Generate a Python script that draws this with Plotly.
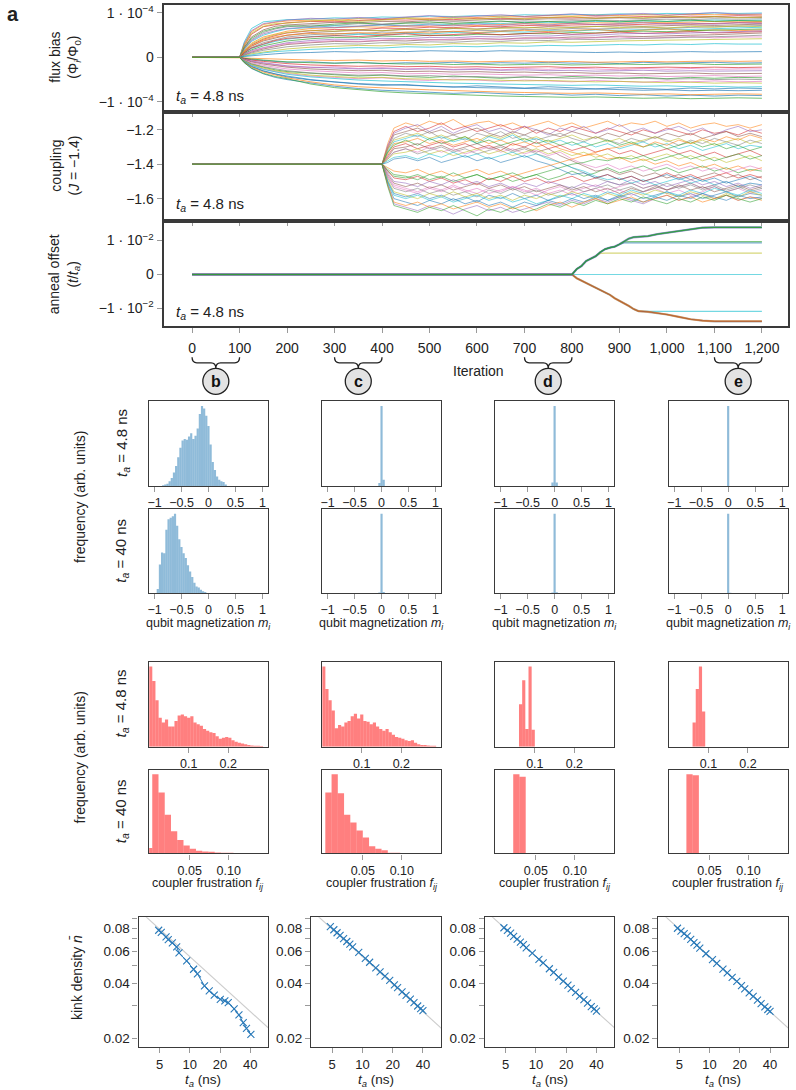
import plotly.graph_objects as go

W, H = 796, 1090
def fx(px): return px / W
def fy(py): return 1 - py / H

TAB10 = ['31,119,180', '255,127,14', '44,160,44', '214,39,40', '148,103,189',
         '140,86,75', '227,119,194', '127,127,127', '188,189,34', '23,190,207']

# ---------------- top panels data ----------------
iter_ticks = [0, 100, 200, 300, 400, 500, 600, 700, 800, 900, 1000, 1100, 1200]
iter_ticktext = ['0', '100', '200', '300', '400', '500', '600', '700', '800', '900', '1,000', '1,100', '1,200']

# flux bias, units of 1e-5 Phi_0
flux_iter = [0, 100, 110, 125, 150, 175, 200, 250, 300, 350, 400, 450, 500, 550, 600, 650, 700, 750, 800, 850, 900, 950, 1000, 1050, 1100, 1150, 1200]
flux_traces = [
    [0,0,3.5,6.5,8.0,8.3,8.5,8.6,8.9,8.8,9.1,9.0,9.3,9.2,9.4,9.3,9.6,9.5,9.7,9.6,9.8,9.7,9.9,9.8,10.0,9.9,10.0],
    [0,0,-0.2,-0.5,-0.7,-0.9,-1.1,-1.0,-1.3,-1.1,-1.4,-1.2,-1.3,-1.1,-1.4,-1.2,-1.3,-1.1,-1.3,-1.2,-1.4,-1.1,-1.3,-1.2,-1.1,-1.3,-1.2],
    [0,0,3.0,5.8,7.4,7.9,8.2,8.4,8.3,8.7,8.6,8.9,8.8,9.1,9.0,9.3,9.2,9.4,9.3,9.5,9.4,9.6,9.5,9.7,9.6,9.7,9.6],
    [0,0,-0.7,-1.5,-2.2,-2.8,-3.2,-3.6,-3.9,-4.2,-4.0,-4.3,-4.5,-4.2,-4.4,-4.7,-4.4,-4.6,-4.3,-4.5,-4.7,-4.5,-4.8,-4.5,-4.7,-4.5,-4.6],
    [0,0,2.6,5.2,6.9,7.4,7.8,8.1,8.0,8.3,8.5,8.4,8.6,8.5,8.8,8.7,8.9,9.0,8.9,9.1,9.0,9.2,9.1,9.3,9.2,9.4,9.3],
    [0,0,3.2,6.0,7.6,8.0,8.4,8.8,8.6,9.0,8.7,9.1,9.4,9.0,9.3,9.6,9.2,9.5,9.8,9.4,9.7,9.9,9.5,9.8,10.1,9.7,9.8],
    [0,0,2.3,4.6,6.2,7.0,7.3,7.6,7.9,7.8,8.1,8.0,8.3,8.2,8.4,8.6,8.5,8.7,8.6,8.8,8.9,8.8,9.0,8.9,9.1,9.0,9.0],
    [0,0,-0.4,-0.9,-1.3,-1.7,-2.0,-2.3,-2.1,-2.5,-2.3,-2.6,-2.4,-2.7,-2.5,-2.8,-2.5,-2.7,-2.4,-2.6,-2.8,-2.5,-2.7,-2.5,-2.7,-2.6,-2.6],
    [0,0,2.0,4.0,5.6,6.4,6.9,7.3,7.2,7.6,7.5,7.8,7.7,8.0,7.9,8.1,8.2,8.1,8.3,8.4,8.3,8.5,8.6,8.5,8.7,8.6,8.7],
    [0,0,2.8,5.5,7.0,7.6,7.7,8.2,8.5,8.1,8.4,8.8,8.5,8.8,8.6,9.0,8.7,8.9,9.2,8.8,9.1,8.9,9.3,9.0,9.2,8.9,9.1],
    [0,0,1.8,3.6,5.0,5.8,6.4,6.8,7.1,7.0,7.3,7.2,7.5,7.4,7.7,7.6,7.9,7.8,8.0,8.1,8.0,8.2,8.1,8.3,8.4,8.3,8.4],
    [0,0,-1.0,-2.1,-3.1,-3.8,-4.4,-5.1,-5.6,-6.0,-6.3,-6.1,-6.5,-6.7,-6.4,-6.7,-6.9,-6.6,-6.9,-7.1,-6.8,-7.0,-7.2,-6.9,-7.1,-6.9,-7.0],
    [0,0,1.6,3.2,4.6,5.3,5.9,6.5,6.7,6.9,6.8,7.1,7.0,7.3,7.2,7.4,7.6,7.5,7.7,7.8,7.7,7.9,7.8,8.0,8.1,8.0,8.1],
    [0,0,2.2,4.3,5.9,6.6,7.1,7.0,7.5,7.8,7.4,7.7,8.0,7.6,7.9,8.2,7.8,8.1,7.9,8.3,8.0,8.3,8.1,8.4,8.1,8.3,8.2],
    [0,0,1.4,2.8,4.1,4.9,5.5,6.0,6.3,6.2,6.6,6.5,6.8,6.7,7.0,6.9,7.2,7.1,7.3,7.4,7.3,7.5,7.6,7.5,7.7,7.8,7.8],
    [0,0,1.9,3.8,5.3,6.0,6.5,6.9,6.7,7.1,7.4,7.0,7.3,7.1,7.5,7.2,7.6,7.3,7.7,7.4,7.6,7.8,7.5,7.7,7.5,7.8,7.6],
    [0,0,1.2,2.5,3.7,4.4,5.0,5.6,5.8,6.1,6.0,6.3,6.2,6.5,6.4,6.7,6.6,6.9,6.8,7.0,7.1,7.0,7.2,7.3,7.2,7.4,7.5],
    [0,0,-0.8,-1.7,-2.6,-3.2,-3.6,-4.2,-4.5,-4.8,-4.6,-5.0,-5.2,-4.9,-5.1,-5.4,-5.1,-5.3,-5.5,-5.2,-5.4,-5.6,-5.3,-5.5,-5.3,-5.5,-5.4],
    [0,0,1.1,2.2,3.3,4.0,4.6,5.1,5.4,5.3,5.7,5.6,5.9,5.8,6.1,6.0,6.3,6.2,6.5,6.4,6.6,6.7,6.6,6.8,6.9,7.0,7.2],
    [0,0,1.5,3.0,4.3,5.1,5.6,6.1,5.9,6.3,6.0,6.4,6.2,6.6,6.3,6.5,6.8,6.5,6.7,7.0,6.7,6.9,6.6,7.0,6.8,7.1,6.9],
    [0,0,1.0,2.0,2.9,3.6,4.1,4.7,4.9,5.2,5.1,5.4,5.3,5.6,5.5,5.8,5.7,6.0,5.9,6.2,6.1,6.3,6.4,6.3,6.5,6.6,6.8],
    [0,0,-1.2,-2.5,-3.7,-4.5,-5.0,-5.8,-6.5,-7.0,-7.4,-7.6,-7.9,-8.1,-7.9,-8.2,-8.4,-8.2,-8.5,-8.3,-8.6,-8.4,-8.7,-8.5,-8.7,-8.5,-8.6],
    [0,0,1.3,2.6,3.9,4.6,5.0,5.4,5.2,5.6,5.3,5.7,5.5,5.9,5.6,5.8,6.1,5.8,6.0,6.3,5.9,6.1,6.4,6.0,6.2,6.0,6.2],
    [0,0,0.8,1.7,2.6,3.2,3.7,4.2,4.5,4.4,4.8,4.7,5.0,4.9,5.2,5.1,5.4,5.3,5.6,5.5,5.8,5.9,5.8,6.0,6.1,6.2,6.4],
    [0,0,1.0,2.1,3.0,3.8,4.3,4.6,4.9,4.7,5.0,5.3,4.9,5.2,5.4,5.1,5.3,5.6,5.2,5.5,5.7,5.4,5.6,5.8,5.5,5.7,5.8],
    [0,0,0.7,1.5,2.2,2.8,3.3,3.8,4.1,4.0,4.3,4.2,4.5,4.4,4.7,4.6,4.9,4.8,5.1,5.0,5.3,5.4,5.3,5.5,5.6,5.8,6.0],
    [0,0,0.6,1.2,1.9,2.4,2.9,3.3,3.6,3.5,3.8,3.7,4.0,3.9,4.2,4.1,4.4,4.3,4.6,4.5,4.8,4.7,4.9,5.0,5.1,5.3,5.5],
    [0,0,0.6,1.3,2.1,2.7,3.1,3.5,3.8,3.6,3.9,4.2,3.9,4.1,4.3,4.0,4.3,4.5,4.2,4.4,4.6,4.3,4.5,4.7,4.4,4.6,4.6],
    [0,0,0.5,1.0,1.6,2.0,2.4,2.8,3.1,3.0,3.3,3.2,3.5,3.4,3.7,3.6,3.9,3.8,4.1,4.0,4.2,4.3,4.4,4.5,4.6,4.8,5.0],
    [0,0,0.4,0.8,1.2,1.6,1.9,2.3,2.5,2.7,2.6,2.9,2.8,3.1,3.0,3.3,3.2,3.5,3.4,3.6,3.7,3.8,3.9,4.0,4.1,4.2,4.2],
    [0,0,0.3,0.6,1.0,1.3,1.5,1.8,2.0,2.2,2.1,2.4,2.3,2.5,2.4,2.6,2.5,2.7,2.6,2.8,2.9,2.8,3.0,2.9,3.1,3.0,3.0],
    [0,0,0.2,0.4,0.6,0.8,1.0,1.1,1.3,1.2,1.4,1.3,1.5,1.4,1.3,1.5,1.4,1.3,1.2,1.1,1.2,1.1,1.2,1.3,1.2,1.3,1.3],
    [0,0,-0.1,-0.2,-0.3,-0.4,-0.5,-0.6,-0.7,-0.6,-0.8,-0.7,-0.9,-0.8,-1.0,-0.9,-0.8,-1.0,-0.9,-1.1,-1.0,-0.9,-1.0,-0.9,-0.8,-0.9,-0.8],
    [0,0,-0.2,-0.4,-0.6,-0.8,-1.0,-1.2,-1.3,-1.2,-1.4,-1.5,-1.4,-1.6,-1.5,-1.7,-1.6,-1.5,-1.7,-1.6,-1.5,-1.6,-1.5,-1.4,-1.6,-1.5,-1.5],
    [0,0,-0.3,-0.6,-0.9,-1.2,-1.4,-1.7,-1.9,-2.0,-1.9,-2.1,-2.0,-2.2,-2.1,-2.3,-2.2,-2.1,-2.3,-2.2,-2.4,-2.3,-2.2,-2.3,-2.2,-2.3,-2.2],
    [0,0,-0.4,-0.8,-1.2,-1.6,-1.9,-2.2,-2.4,-2.6,-2.5,-2.7,-2.6,-2.8,-2.7,-2.9,-2.8,-3.0,-2.9,-3.1,-3.0,-2.9,-3.1,-3.0,-3.1,-3.0,-3.0],
    [0,0,-0.5,-1.0,-1.5,-1.9,-2.2,-2.6,-2.8,-3.0,-2.9,-3.2,-3.1,-3.3,-3.2,-3.4,-3.3,-3.5,-3.4,-3.6,-3.5,-3.7,-3.6,-3.5,-3.7,-3.6,-3.6],
    [0,0,-0.6,-1.2,-1.8,-2.2,-2.6,-3.0,-3.3,-3.5,-3.4,-3.7,-3.6,-3.8,-3.7,-3.9,-4.0,-3.9,-4.1,-4.0,-4.2,-4.1,-4.3,-4.2,-4.1,-4.3,-4.2],
    [0,0,-0.7,-1.4,-2.1,-2.6,-3.0,-3.5,-3.8,-4.0,-3.9,-4.2,-4.1,-4.4,-4.3,-4.5,-4.4,-4.6,-4.7,-4.6,-4.8,-4.7,-4.9,-4.8,-5.0,-4.9,-5.0],
    [0,0,-0.8,-1.6,-2.4,-3.0,-3.4,-4.0,-4.3,-4.6,-4.5,-4.8,-4.9,-5.1,-5.0,-5.2,-5.3,-5.2,-5.4,-5.5,-5.4,-5.6,-5.7,-5.6,-5.8,-5.7,-5.8],
    [0,0,-0.9,-1.8,-2.7,-3.3,-3.8,-4.4,-4.8,-5.1,-5.3,-5.5,-5.6,-5.8,-5.9,-6.0,-6.1,-6.2,-6.3,-6.2,-6.4,-6.5,-6.4,-6.6,-6.5,-6.7,-6.6],
    [0,0,-1.0,-2.0,-3.0,-3.7,-4.2,-5.0,-5.5,-5.9,-6.1,-6.3,-6.5,-6.6,-6.8,-6.9,-7.0,-7.1,-7.2,-7.1,-7.3,-7.4,-7.3,-7.5,-7.4,-7.5,-7.4],
    [0,0,-1.1,-2.2,-3.3,-4.0,-4.6,-5.5,-6.2,-6.6,-6.9,-7.1,-7.3,-7.5,-7.6,-7.8,-7.9,-8.0,-8.1,-8.0,-8.2,-8.3,-8.2,-8.4,-8.3,-8.2,-8.3],
    [0,0,-1.2,-2.4,-3.6,-4.3,-4.8,-6.0,-6.8,-7.3,-7.7,-8.0,-8.2,-8.4,-8.6,-8.7,-8.8,-8.9,-9.0,-8.9,-9.1,-9.2,-9.1,-9.3,-9.2,-9.1,-9.2],
]

coupling_iter = [0, 400, 412, 425, 450, 475, 500, 525, 550, 575, 600, 625, 650, 675, 700, 725, 750, 775, 800, 825, 850, 875, 900, 925, 950, 975, 1000, 1025, 1050, 1075, 1100, 1125, 1150, 1175, 1200]
coupling_traces = [
    [-1.40,-1.40,-1.28,-1.19,-1.16,-1.18,-1.15,-1.17,-1.14,-1.18,-1.16,-1.15,-1.18,-1.16,-1.19,-1.17,-1.15,-1.18,-1.16,-1.19,-1.17,-1.15,-1.18,-1.16,-1.17,-1.15,-1.18,-1.16,-1.19,-1.17,-1.16,-1.18,-1.17,-1.19,-1.17],
    [-1.40,-1.40,-1.44,-1.47,-1.48,-1.46,-1.49,-1.47,-1.50,-1.48,-1.46,-1.49,-1.47,-1.50,-1.48,-1.46,-1.49,-1.47,-1.44,-1.47,-1.45,-1.42,-1.45,-1.43,-1.41,-1.44,-1.42,-1.45,-1.43,-1.41,-1.44,-1.42,-1.45,-1.43,-1.44],
    [-1.40,-1.40,-1.30,-1.21,-1.18,-1.21,-1.19,-1.16,-1.20,-1.18,-1.21,-1.19,-1.17,-1.20,-1.18,-1.22,-1.19,-1.21,-1.18,-1.20,-1.22,-1.19,-1.21,-1.23,-1.20,-1.22,-1.19,-1.21,-1.23,-1.20,-1.22,-1.21,-1.23,-1.20,-1.22],
    [-1.40,-1.40,-1.29,-1.22,-1.19,-1.17,-1.21,-1.18,-1.22,-1.19,-1.17,-1.21,-1.19,-1.22,-1.18,-1.20,-1.23,-1.19,-1.21,-1.18,-1.22,-1.20,-1.17,-1.21,-1.19,-1.22,-1.20,-1.18,-1.21,-1.19,-1.23,-1.20,-1.18,-1.21,-1.20],
    [-1.40,-1.40,-1.31,-1.23,-1.21,-1.19,-1.22,-1.20,-1.23,-1.21,-1.19,-1.22,-1.24,-1.21,-1.23,-1.20,-1.22,-1.24,-1.21,-1.23,-1.25,-1.22,-1.24,-1.21,-1.23,-1.25,-1.22,-1.24,-1.22,-1.25,-1.23,-1.21,-1.24,-1.22,-1.24],
    [-1.40,-1.40,-1.47,-1.52,-1.54,-1.56,-1.53,-1.55,-1.52,-1.55,-1.57,-1.54,-1.56,-1.53,-1.55,-1.58,-1.55,-1.53,-1.56,-1.54,-1.52,-1.55,-1.53,-1.51,-1.54,-1.52,-1.55,-1.53,-1.51,-1.54,-1.52,-1.50,-1.53,-1.51,-1.52],
    [-1.40,-1.40,-1.32,-1.25,-1.22,-1.24,-1.21,-1.25,-1.23,-1.26,-1.22,-1.24,-1.21,-1.25,-1.23,-1.26,-1.24,-1.22,-1.25,-1.27,-1.24,-1.26,-1.28,-1.25,-1.27,-1.24,-1.26,-1.29,-1.26,-1.28,-1.25,-1.27,-1.29,-1.26,-1.28],
    [-1.40,-1.40,-1.31,-1.26,-1.24,-1.22,-1.25,-1.23,-1.26,-1.24,-1.27,-1.23,-1.25,-1.22,-1.26,-1.24,-1.27,-1.25,-1.23,-1.26,-1.24,-1.27,-1.25,-1.28,-1.26,-1.24,-1.27,-1.25,-1.28,-1.26,-1.29,-1.27,-1.25,-1.28,-1.26],
    [-1.40,-1.40,-1.33,-1.27,-1.25,-1.23,-1.26,-1.24,-1.27,-1.25,-1.28,-1.24,-1.26,-1.23,-1.27,-1.25,-1.28,-1.26,-1.29,-1.27,-1.30,-1.28,-1.31,-1.29,-1.27,-1.30,-1.28,-1.31,-1.29,-1.32,-1.30,-1.28,-1.31,-1.29,-1.30],
    [-1.40,-1.40,-1.50,-1.57,-1.59,-1.57,-1.60,-1.58,-1.61,-1.59,-1.62,-1.58,-1.60,-1.57,-1.60,-1.58,-1.61,-1.59,-1.57,-1.60,-1.58,-1.61,-1.59,-1.57,-1.60,-1.58,-1.56,-1.59,-1.57,-1.60,-1.58,-1.56,-1.59,-1.57,-1.58],
    [-1.40,-1.40,-1.34,-1.28,-1.27,-1.25,-1.28,-1.26,-1.29,-1.27,-1.25,-1.28,-1.26,-1.29,-1.27,-1.30,-1.28,-1.31,-1.33,-1.35,-1.34,-1.37,-1.36,-1.39,-1.37,-1.40,-1.38,-1.41,-1.39,-1.42,-1.40,-1.43,-1.41,-1.44,-1.42],
    [-1.40,-1.40,-1.33,-1.29,-1.26,-1.29,-1.25,-1.28,-1.26,-1.24,-1.28,-1.26,-1.29,-1.27,-1.25,-1.28,-1.26,-1.29,-1.27,-1.30,-1.28,-1.26,-1.29,-1.27,-1.30,-1.28,-1.31,-1.29,-1.27,-1.30,-1.28,-1.31,-1.29,-1.32,-1.30],
    [-1.40,-1.40,-1.35,-1.30,-1.28,-1.31,-1.29,-1.27,-1.30,-1.28,-1.31,-1.29,-1.32,-1.28,-1.30,-1.27,-1.31,-1.29,-1.32,-1.30,-1.33,-1.31,-1.34,-1.32,-1.35,-1.33,-1.31,-1.34,-1.32,-1.35,-1.33,-1.36,-1.34,-1.32,-1.35],
    [-1.40,-1.40,-1.52,-1.63,-1.65,-1.67,-1.64,-1.66,-1.69,-1.66,-1.64,-1.67,-1.65,-1.68,-1.66,-1.64,-1.62,-1.64,-1.61,-1.63,-1.60,-1.62,-1.59,-1.61,-1.63,-1.60,-1.58,-1.61,-1.59,-1.57,-1.60,-1.58,-1.61,-1.59,-1.60],
    [-1.40,-1.40,-1.36,-1.31,-1.30,-1.28,-1.31,-1.29,-1.32,-1.30,-1.28,-1.31,-1.29,-1.32,-1.30,-1.33,-1.31,-1.35,-1.38,-1.41,-1.44,-1.43,-1.46,-1.44,-1.47,-1.45,-1.48,-1.46,-1.49,-1.47,-1.45,-1.48,-1.46,-1.49,-1.47],
    [-1.40,-1.40,-1.36,-1.33,-1.31,-1.33,-1.30,-1.33,-1.31,-1.34,-1.32,-1.30,-1.33,-1.31,-1.34,-1.32,-1.35,-1.33,-1.37,-1.40,-1.42,-1.40,-1.43,-1.41,-1.44,-1.42,-1.40,-1.43,-1.41,-1.44,-1.42,-1.45,-1.43,-1.41,-1.43],
    [-1.40,-1.40,-1.37,-1.33,-1.31,-1.34,-1.32,-1.30,-1.33,-1.31,-1.34,-1.32,-1.30,-1.33,-1.31,-1.34,-1.36,-1.39,-1.42,-1.45,-1.48,-1.50,-1.52,-1.51,-1.54,-1.52,-1.55,-1.53,-1.51,-1.54,-1.52,-1.55,-1.53,-1.56,-1.54],
    [-1.40,-1.40,-1.37,-1.34,-1.33,-1.31,-1.34,-1.32,-1.35,-1.33,-1.31,-1.34,-1.32,-1.35,-1.33,-1.31,-1.34,-1.32,-1.35,-1.33,-1.36,-1.34,-1.37,-1.35,-1.38,-1.36,-1.34,-1.37,-1.35,-1.38,-1.36,-1.39,-1.37,-1.35,-1.38],
    [-1.40,-1.40,-1.38,-1.36,-1.35,-1.37,-1.34,-1.36,-1.33,-1.36,-1.34,-1.37,-1.35,-1.33,-1.36,-1.34,-1.37,-1.39,-1.42,-1.44,-1.47,-1.49,-1.48,-1.51,-1.49,-1.52,-1.50,-1.48,-1.51,-1.49,-1.52,-1.50,-1.53,-1.51,-1.52],
    [-1.40,-1.40,-1.39,-1.37,-1.36,-1.38,-1.36,-1.39,-1.37,-1.35,-1.38,-1.36,-1.39,-1.37,-1.35,-1.38,-1.40,-1.43,-1.46,-1.45,-1.48,-1.46,-1.49,-1.47,-1.50,-1.48,-1.46,-1.49,-1.47,-1.50,-1.48,-1.51,-1.49,-1.47,-1.50],
    [-1.40,-1.40,-1.42,-1.44,-1.45,-1.43,-1.46,-1.44,-1.47,-1.45,-1.43,-1.46,-1.44,-1.47,-1.45,-1.43,-1.41,-1.39,-1.37,-1.35,-1.33,-1.31,-1.30,-1.28,-1.30,-1.27,-1.29,-1.26,-1.28,-1.25,-1.27,-1.24,-1.26,-1.23,-1.25],
    [-1.40,-1.40,-1.43,-1.46,-1.47,-1.49,-1.46,-1.48,-1.45,-1.48,-1.46,-1.49,-1.47,-1.45,-1.48,-1.46,-1.44,-1.42,-1.40,-1.39,-1.37,-1.38,-1.36,-1.37,-1.35,-1.38,-1.36,-1.34,-1.37,-1.35,-1.38,-1.36,-1.34,-1.37,-1.35],
    [-1.40,-1.40,-1.44,-1.48,-1.49,-1.47,-1.50,-1.48,-1.51,-1.49,-1.52,-1.48,-1.50,-1.47,-1.50,-1.48,-1.51,-1.49,-1.47,-1.50,-1.48,-1.46,-1.49,-1.47,-1.50,-1.48,-1.45,-1.48,-1.46,-1.49,-1.47,-1.45,-1.48,-1.46,-1.48],
    [-1.40,-1.40,-1.45,-1.50,-1.51,-1.53,-1.50,-1.52,-1.49,-1.52,-1.50,-1.53,-1.51,-1.54,-1.51,-1.53,-1.50,-1.52,-1.54,-1.51,-1.53,-1.50,-1.52,-1.49,-1.52,-1.50,-1.53,-1.51,-1.49,-1.52,-1.50,-1.53,-1.51,-1.54,-1.52],
    [-1.40,-1.40,-1.46,-1.51,-1.53,-1.51,-1.54,-1.52,-1.55,-1.53,-1.51,-1.54,-1.52,-1.55,-1.53,-1.56,-1.54,-1.52,-1.55,-1.53,-1.56,-1.54,-1.57,-1.54,-1.56,-1.53,-1.55,-1.52,-1.55,-1.53,-1.56,-1.54,-1.52,-1.55,-1.53],
    [-1.40,-1.40,-1.47,-1.53,-1.55,-1.57,-1.54,-1.56,-1.53,-1.56,-1.54,-1.57,-1.55,-1.53,-1.56,-1.54,-1.57,-1.55,-1.58,-1.56,-1.54,-1.57,-1.55,-1.58,-1.56,-1.54,-1.57,-1.55,-1.58,-1.56,-1.53,-1.56,-1.54,-1.57,-1.55],
    [-1.40,-1.40,-1.48,-1.54,-1.56,-1.54,-1.57,-1.55,-1.58,-1.56,-1.59,-1.55,-1.57,-1.54,-1.57,-1.55,-1.58,-1.56,-1.53,-1.56,-1.54,-1.52,-1.55,-1.53,-1.56,-1.54,-1.51,-1.54,-1.52,-1.55,-1.53,-1.56,-1.54,-1.52,-1.54],
    [-1.40,-1.40,-1.49,-1.56,-1.58,-1.60,-1.57,-1.59,-1.56,-1.59,-1.57,-1.60,-1.58,-1.61,-1.58,-1.60,-1.57,-1.59,-1.56,-1.58,-1.60,-1.57,-1.59,-1.56,-1.58,-1.55,-1.57,-1.59,-1.56,-1.58,-1.60,-1.57,-1.59,-1.56,-1.58],
    [-1.40,-1.40,-1.50,-1.58,-1.60,-1.58,-1.61,-1.59,-1.62,-1.60,-1.58,-1.61,-1.59,-1.62,-1.60,-1.63,-1.61,-1.58,-1.60,-1.57,-1.59,-1.56,-1.58,-1.55,-1.57,-1.59,-1.56,-1.58,-1.55,-1.57,-1.54,-1.56,-1.58,-1.55,-1.57],
    [-1.40,-1.40,-1.51,-1.60,-1.62,-1.64,-1.61,-1.63,-1.60,-1.63,-1.61,-1.64,-1.62,-1.65,-1.62,-1.64,-1.61,-1.63,-1.60,-1.62,-1.59,-1.61,-1.58,-1.60,-1.62,-1.59,-1.61,-1.58,-1.60,-1.57,-1.59,-1.61,-1.58,-1.60,-1.59],
    [-1.40,-1.40,-1.52,-1.62,-1.64,-1.62,-1.65,-1.63,-1.66,-1.64,-1.62,-1.65,-1.63,-1.66,-1.64,-1.67,-1.64,-1.62,-1.65,-1.62,-1.60,-1.63,-1.61,-1.59,-1.62,-1.60,-1.58,-1.61,-1.59,-1.62,-1.60,-1.58,-1.61,-1.59,-1.61],
    [-1.40,-1.40,-1.53,-1.64,-1.66,-1.68,-1.65,-1.67,-1.64,-1.67,-1.70,-1.66,-1.68,-1.65,-1.68,-1.66,-1.63,-1.65,-1.62,-1.64,-1.61,-1.63,-1.60,-1.62,-1.59,-1.61,-1.63,-1.60,-1.62,-1.59,-1.61,-1.58,-1.60,-1.62,-1.60],
]

# anneal offset, units of 1e-2 t_a
anneal_iter = [0, 800, 810, 820, 830, 840, 850, 860, 870, 880, 890, 900, 910, 920, 930, 940, 960, 980, 1000, 1025, 1050, 1075, 1100, 1200]
anneal_top = [0,0,0.16,0.25,0.40,0.48,0.54,0.66,0.75,0.79,0.82,0.89,0.98,1.06,1.10,1.11,1.13,1.19,1.23,1.28,1.34,1.38,1.39,1.39]
anneal_bottom = [0,0,-0.11,-0.18,-0.25,-0.31,-0.40,-0.47,-0.53,-0.60,-0.70,-0.77,-0.84,-0.93,-1.02,-1.08,-1.10,-1.13,-1.18,-1.25,-1.32,-1.36,-1.38,-1.38]
anneal_yellow = [0,0,0.16,0.25,0.40,0.48,0.54,0.62,0.63,0.63,0.63,0.63,0.63,0.63,0.63,0.63,0.63,0.63,0.63,0.63,0.63,0.63,0.63,0.63]
anneal_mid1 = [0,0,0.16,0.25,0.40,0.48,0.54,0.66,0.75,0.79,0.82,0.89,0.96,0.97,0.97,0.97,0.97,0.97,0.97,0.97,0.97,0.97,0.97,0.97]
anneal_mid2 = [0,0,0.16,0.25,0.40,0.48,0.54,0.66,0.75,0.79,0.82,0.89,0.93,0.93,0.93,0.93,0.93,0.93,0.93,0.93,0.93,0.93,0.93,0.93]
anneal_lowcyan = [0,0,-0.11,-0.18,-0.25,-0.31,-0.40,-0.47,-0.53,-0.60,-0.70,-0.77,-0.84,-0.93,-1.02,-1.08,-1.09,-1.09,-1.09,-1.09,-1.09,-1.09,-1.09,-1.09]
anneal_zero_iter = [0, 1200]
anneal_zero = [0, 0]

brace_spans = [(0, 100, 'b'), (300, 400, 'c'), (700, 800, 'd'), (1100, 1200, 'e')]

# ---------------- histograms ----------------
mag_ticks = [-1, -0.5, 0, 0.5, 1]
mag_ticktext = ['\u22121', '\u22120.5', '0', '0.5', '1']

mag_c1r1_x = [-0.84,-0.80,-0.76,-0.72,-0.68,-0.64,-0.60,-0.56,-0.52,-0.48,-0.44,-0.40,-0.36,-0.32,-0.28,-0.24,-0.20,-0.16,-0.12,-0.08,-0.04,0.00,0.04,0.08,0.12,0.16,0.20,0.24,0.28,0.32]
mag_c1r1_y = [0.01,0.02,0.03,0.06,0.10,0.17,0.25,0.36,0.48,0.57,0.59,0.58,0.62,0.66,0.59,0.63,0.72,0.90,1.00,0.97,0.88,0.75,0.52,0.30,0.20,0.12,0.08,0.06,0.05,0.02]
mag_c1r2_x = [-0.94,-0.90,-0.86,-0.82,-0.78,-0.74,-0.70,-0.66,-0.62,-0.58,-0.54,-0.50,-0.46,-0.42,-0.38,-0.34,-0.30,-0.26,-0.22,-0.18,-0.14,-0.10,-0.06]
mag_c1r2_y = [0.05,0.36,0.51,0.50,0.80,0.93,0.95,0.97,1.00,0.85,0.68,0.58,0.50,0.44,0.35,0.27,0.20,0.13,0.08,0.07,0.04,0.02,0.01]
mag_spike_x = [-0.04, 0.0, 0.04]
mag_c2r1_y = [0.04, 1.0, 0.08]
mag_c2r2_y = [0.005, 1.0, 0.01]
mag_c3r1_y = [0.045, 1.0, 0.045]
mag_c3r2_y = [0.005, 1.0, 0.008]
mag_c4r1_y = [0.0, 1.0, 0.0]
mag_c4r2_y = [0.0, 1.0, 0.003]

fr1_ticks = [0.1, 0.2]
fr1_ticktext = ['0.1', '0.2']
fr2_ticks = [0.05, 0.10]
fr2_ticktext = ['0.05', '0.10']

fr_r1_x = [0.004,0.012,0.020,0.028,0.036,0.044,0.052,0.060,0.068,0.076,0.084,0.092,0.100,0.108,0.116,0.124,0.132,0.140,0.148,0.156,0.164,0.172,0.180,0.188,0.196,0.204,0.212,0.220,0.228,0.236,0.244,0.252,0.260,0.268,0.276,0.284]
fr_c1r1_y = [1.0,0.82,0.58,0.36,0.30,0.34,0.25,0.25,0.32,0.39,0.40,0.38,0.36,0.38,0.30,0.28,0.26,0.22,0.20,0.18,0.17,0.13,0.10,0.11,0.12,0.11,0.08,0.06,0.05,0.04,0.03,0.02,0.015,0.012,0.01,0.008]
fr_c2r1_y = [1.0,0.72,0.58,0.45,0.23,0.27,0.25,0.30,0.32,0.38,0.41,0.35,0.40,0.32,0.31,0.28,0.30,0.25,0.22,0.20,0.22,0.18,0.15,0.12,0.11,0.10,0.08,0.07,0.08,0.05,0.03,0.02,0.02,0.015,0.01,0.01]
fr_c1r2_x = [-0.002,0.006,0.014,0.022,0.030,0.038,0.046,0.054,0.062,0.070,0.078,0.086,0.094,0.102,0.110,0.118,0.126,0.134,0.142]
fr_c1r2_y = [0.07,1.0,0.77,0.49,0.28,0.17,0.10,0.06,0.035,0.025,0.02,0.012,0.01,0.008,0.006,0.005,0.004,0.003,0.002]
fr_c2r2_x = [0.006,0.014,0.022,0.030,0.038,0.046,0.054,0.062,0.070,0.078,0.086,0.094,0.102,0.110]
fr_c2r2_y = [0.77,1.0,0.76,0.49,0.39,0.29,0.20,0.09,0.06,0.04,0.01,0.008,0.005,0.003]
fr_c3r1_x = [0.064,0.072,0.080,0.088,0.096]
fr_c3r1_y = [0.53,0.83,0.22,1.0,0.21]
fr_c4r1_x = [0.064,0.072,0.080,0.088]
fr_c4r1_y = [0.30,0.72,1.0,0.44]
fr_c3r2_x = [0.025,0.033]
fr_c3r2_y = [1.0,0.97]
fr_c4r2_x = [0.0245,0.0325]
fr_c4r2_y = [1.0,0.99]

# ---------------- kink density ----------------
kink_t_b = [4.9,5.2,5.8,6.1,6.7,7.4,7.8,9.3,10.9,11.9,14.0,15.6,17.5,20.1,22.3,24.1,27.6,30.8,34.0,36.6,40.5]
kink_n_b = [0.0780,0.0759,0.0718,0.0694,0.0665,0.0632,0.0586,0.0530,0.0477,0.0450,0.0387,0.0363,0.0344,0.0326,0.0320,0.0313,0.0289,0.0268,0.0243,0.0226,0.0210]
kink_t = [4.8,5.2,5.6,6.0,6.5,7.0,7.5,8.0,9.2,10.7,11.8,13.6,15.0,16.8,18.7,20.8,22.4,24.8,27.2,30.0,32.6,35.5,38.0,40.0]
kink_n_c = [0.0817,0.0785,0.0756,0.0731,0.0702,0.0677,0.0654,0.0633,0.0590,0.0547,0.0521,0.0485,0.0462,0.0437,0.0414,0.0392,0.0378,0.0359,0.0343,0.0327,0.0313,0.0300,0.0290,0.0283]
kink_n_d = [0.0805,0.0778,0.0752,0.0722,0.0698,0.0671,0.0650,0.0625,0.0584,0.0540,0.0517,0.0480,0.0458,0.0432,0.0411,0.0390,0.0374,0.0356,0.0340,0.0325,0.0311,0.0298,0.0289,0.0281]
kink_n_e = [0.0800,0.0772,0.0748,0.0724,0.0695,0.0668,0.0646,0.0622,0.0580,0.0538,0.0514,0.0478,0.0455,0.0431,0.0409,0.0388,0.0372,0.0354,0.0339,0.0323,0.0309,0.0297,0.0287,0.0280]
kink_fit_t = [3.0, 65.0]
kink_fit_n = [0.1022, 0.02195]
kink_yticks = [0.02, 0.04, 0.06, 0.08]
kink_yticktext = ['0.02', '0.04', '0.06', '0.08']
kink_yminor = [0.03, 0.05, 0.07, 0.09]
kink_xticks = [5, 10, 20, 40]
kink_xticktext = ['5', '10', '20', '40']

# ---------------- figure building ----------------
FONT = 'Liberation Sans, Arial, Helvetica, sans-serif'
fig = go.Figure()
layout = {}
counter = [0]

def new_axes(x0, x1, y0, y1, xopt, yopt):
    counter[0] += 1
    n = counter[0]
    s = '' if n == 1 else str(n)
    layout['xaxis' + s] = dict(domain=[fx(x0), fx(x1)], anchor='y' + s, **xopt)
    layout['yaxis' + s] = dict(domain=[fy(y1), fy(y0)], anchor='x' + s, **yopt)
    return 'x' + s, 'y' + s

def frame(lw=1.6):
    return dict(showline=True, linecolor='#3a3a3a', linewidth=lw, mirror=True,
                showgrid=False, zeroline=False)

def tk(size):
    return dict(ticks='outside', ticklen=5, tickcolor='#9a9a9a', tickwidth=1,
                tickfont=dict(size=size, color='#222', family=FONT))

annotations = []
shapes = []

def ann(text, x, y, size=14, angle=0, xanchor='center', yanchor='middle', **kw):
    annotations.append(dict(text=text, x=fx(x), y=fy(y), xref='paper', yref='paper',
                            showarrow=False, textangle=angle, xanchor=xanchor, yanchor=yanchor,
                            font=dict(size=size, family=FONT, color='#222'), **kw))

TX0, TX1 = 162, 788
top_x = dict(range=[-60, 1255], tickvals=iter_ticks, ticktext=iter_ticktext)
ta48 = '<i>t</i><sub><i>a</i></sub> = 4.8 ns'
ta40 = '<i>t</i><sub><i>a</i></sub> = 40 ns'

# panel 1: flux bias
xa, ya = new_axes(TX0, TX1, 3, 108,
                  dict(**top_x, **frame(2), **tk(14), showticklabels=False),
                  dict(range=[-11.8, 11.8], tickvals=[-10, 0, 10],
                       ticktext=['\u22121 \u00b7 10<sup>\u22124</sup>', '0', '1 \u00b7 10<sup>\u22124</sup>'],
                       **frame(2), **tk(14)))
n = len(flux_traces)
k0 = (2 - (n - 1)) % 10
for i, tr in enumerate(flux_traces):
    col = TAB10[(i + k0) % 10]
    fig.add_trace(go.Scatter(x=flux_iter[:len(tr)], y=tr, mode='lines', xaxis=xa, yaxis=ya,
                             line=dict(color=f'rgba({col},0.75)', width=0.9)))
ann('flux bias<br>(\u03a6<sub><i>i</i></sub>/\u03a6<sub>0</sub>)', 63, 55, size=14, angle=-90)
ann(ta48, 172, 95, size=15, xanchor='left')

# panel 2: coupling
xa, ya = new_axes(TX0, TX1, 112, 217,
                  dict(**top_x, **frame(2), **tk(14), showticklabels=False),
                  dict(range=[-1.716, -1.107], tickvals=[-1.6, -1.4, -1.2],
                       ticktext=['\u22121.6', '\u22121.4', '\u22121.2'], **frame(2), **tk(14)))
n = len(coupling_traces)
k0 = (2 - (n - 1)) % 10
for i, tr in enumerate(coupling_traces):
    col = TAB10[(i + k0) % 10]
    fig.add_trace(go.Scatter(x=coupling_iter[:len(tr)], y=tr, mode='lines', xaxis=xa, yaxis=ya,
                             line=dict(color=f'rgba({col},0.7)', width=0.8)))
ann('coupling<br>(<i>J</i> = \u22121.4)', 63, 164, size=14, angle=-90)
ann(ta48, 172, 203, size=15, xanchor='left')

# panel 3: anneal offset
xa3, ya3 = new_axes(TX0, TX1, 221, 325,
                    dict(**top_x, **frame(2), **tk(14), ticklabelstandoff=3),
                    dict(range=[-1.53, 1.53], tickvals=[-1, 0, 1],
                         ticktext=['\u22121 \u00b7 10<sup>\u22122</sup>', '0', '1 \u00b7 10<sup>\u22122</sup>'],
                         **frame(2), **tk(14)))
def aline(x, y, col, w, a=0.9):
    fig.add_trace(go.Scatter(x=x[:len(y)], y=y, mode='lines', xaxis=xa3, yaxis=ya3,
                             line=dict(color=f'rgba({col},{a})', width=w)))
aline(anneal_zero_iter, anneal_zero, TAB10[9], 1.2, 0.6)
aline(anneal_iter, anneal_lowcyan, TAB10[9], 1.2, 0.6)
aline(anneal_iter, anneal_yellow, TAB10[8], 1.2, 0.6)
aline(anneal_iter, anneal_mid2, TAB10[0], 1.3, 0.6)
aline(anneal_iter, anneal_mid1, TAB10[2], 1.3, 0.6)
aline(anneal_iter, anneal_bottom, TAB10[7], 2.2, 0.6)
aline(anneal_iter, anneal_bottom, TAB10[1], 1.6, 0.8)
aline(anneal_iter, anneal_bottom, TAB10[5], 1.0, 0.7)
aline(anneal_iter, anneal_top, TAB10[4], 2.4, 0.6)
aline(anneal_iter, anneal_top, TAB10[0], 1.8, 0.5)
aline(anneal_iter, anneal_top, TAB10[2], 1.2, 0.85)
ann('anneal offset<br>(<i>t</i>/<i>t</i><sub><i>a</i></sub>)', 63, 273, size=14, angle=-90)
ann(ta48, 172, 311, size=15, xanchor='left')
ann('Iteration', 478, 370, size=14)

# braces and circled letters
yb0, yb1, yb2 = fy(356), fy(361.5), fy(367)
for a, b, letter in brace_spans:
    m = (a + b) / 2
    r = 10
    path = (f'M {a},{yb0} Q {a},{yb1} {a + r},{yb1} L {m - r},{yb1} Q {m},{yb1} {m},{yb2} '
            f'Q {m},{yb1} {m + r},{yb1} L {b - r},{yb1} Q {b},{yb1} {b},{yb0}')
    shapes.append(dict(type='path', path=path, xref=xa3, yref='paper',
                       line=dict(color='#222', width=1.3)))
    shapes.append(dict(type='circle', xref=xa3, yref='paper', xsizemode='pixel', ysizemode='pixel',
                       xanchor=m, yanchor=fy(380), x0=-13, x1=13, y0=-13, y1=13,
                       fillcolor='#e3e3e3', line=dict(color='#222', width=1.3)))
    annotations.append(dict(text=f'<b>{letter}</b>', x=m, y=fy(380.5), xref=xa3, yref='paper',
                            showarrow=False, font=dict(size=16, family=FONT, color='#111')))

ann('<b>a</b>', 11, 12, size=20)

# histogram grid
COLS = [(147.5, 266.5), (321, 440), (494.5, 613.5), (668.5, 787.5)]
BLUE = 'rgba(31,119,180,0.5)'
RED = 'rgba(255,0,0,0.5)'

def hist_axes(c, y0, y1, xrange, tv, tt):
    return new_axes(COLS[c][0], COLS[c][1], y0, y1,
                    dict(range=xrange, tickvals=tv, ticktext=tt, **frame(1.4), **tk(12.5)),
                    dict(range=[0, 1.06], showticklabels=False, ticks='', **frame(1.4)))

def bars(xa, ya, x, y, w, col):
    fig.add_trace(go.Bar(x=x, y=y, width=w, xaxis=xa, yaxis=ya,
                         marker=dict(color=col, line=dict(width=0))))

blue_sets = [
    [(mag_c1r1_x, mag_c1r1_y), (mag_c1r2_x, mag_c1r2_y)],
    [(mag_spike_x, mag_c2r1_y), (mag_spike_x, mag_c2r2_y)],
    [(mag_spike_x, mag_c3r1_y), (mag_spike_x, mag_c3r2_y)],
    [(mag_spike_x, mag_c4r1_y), (mag_spike_x, mag_c4r2_y)],
]
BROWS = [(400, 485), (508, 592)]
for c in range(4):
    for r in range(2):
        xa, ya = hist_axes(c, BROWS[r][0], BROWS[r][1], [-1.1, 1.1], mag_ticks, mag_ticktext)
        bx, by = blue_sets[c][r]
        bars(xa, ya, bx, by, 0.04, BLUE)
    ann('qubit magnetization <i>m</i><sub><i>i</i></sub>', (COLS[c][0] + COLS[c][1]) / 2, 623, size=12.5)
ann(ta48, 120, 442, size=15, angle=-90)
ann(ta40, 120, 550, size=15, angle=-90)
ann('frequency (arb. units)', 78, 496, size=14, angle=-90)

red_sets = [
    [(fr_r1_x, fr_c1r1_y), (fr_c1r2_x, fr_c1r2_y)],
    [(fr_r1_x, fr_c2r1_y), (fr_c2r2_x, fr_c2r2_y)],
    [(fr_c3r1_x, fr_c3r1_y), (fr_c3r2_x, fr_c3r2_y)],
    [(fr_c4r1_x, fr_c4r1_y), (fr_c4r2_x, fr_c4r2_y)],
]
RROWS = [(661, 746), (769, 853)]
for c in range(4):
    xa, ya = hist_axes(c, RROWS[0][0], RROWS[0][1], [0, 0.3], fr1_ticks, fr1_ticktext)
    bars(xa, ya, red_sets[c][0][0], red_sets[c][0][1], 0.008, RED)
    xa, ya = hist_axes(c, RROWS[1][0], RROWS[1][1], [-0.002, 0.15], fr2_ticks, fr2_ticktext)
    bars(xa, ya, red_sets[c][1][0], red_sets[c][1][1], 0.008, RED)
    ann('coupler frustration <i>f</i><sub><i>ij</i></sub>', (COLS[c][0] + COLS[c][1]) / 2, 884, size=12.5)
ann(ta48, 120, 703, size=15, angle=-90)
ann(ta40, 120, 811, size=15, angle=-90)
ann('frequency (arb. units)', 78, 757, size=14, angle=-90)

# kink density
KCOLS = [(137, 267), (310, 440), (484, 614), (658, 788)]
kink_sets = [(kink_t_b, kink_n_b), (kink_t, kink_n_c), (kink_t, kink_n_d), (kink_t, kink_n_e)]
KB = '#2a7ab9'
for c in range(4):
    xa, ya = new_axes(KCOLS[c][0], KCOLS[c][1], 917, 1047,
                      dict(type='log', range=[0.491, 1.781], tickvals=kink_xticks, ticktext=kink_xticktext,
                           **frame(1.4), **tk(13)),
                      dict(type='log', range=[-1.748, -1.037], tickvals=kink_yticks, ticktext=kink_yticktext,
                           minor=dict(tickvals=kink_yminor, ticks='outside', ticklen=5, tickcolor='#9a9a9a',
                                      showgrid=False),
                           **frame(1.4), **tk(13.5)))
    fig.add_trace(go.Scatter(x=kink_fit_t, y=kink_fit_n, mode='lines', xaxis=xa, yaxis=ya,
                             line=dict(color='#cccccc', width=1.1)))
    kt, kn = kink_sets[c]
    fig.add_trace(go.Scatter(x=kt, y=kn, mode='lines+markers', xaxis=xa, yaxis=ya,
                             line=dict(color=KB, width=1.0),
                             marker=dict(symbol='x-thin', size=7, line=dict(width=1.1, color=KB))))
    ann('<i>t</i><sub><i>a</i></sub> (ns)', (KCOLS[c][0] + KCOLS[c][1]) / 2, 1080, size=13.5)
ann('kink density <i>n\u0304</i>', 75, 977, size=14, angle=-90)

fig.update_layout(width=W, height=H, margin=dict(l=0, r=0, t=0, b=0),
                  paper_bgcolor='white', plot_bgcolor='white', showlegend=False,
                  hovermode=False, font=dict(family=FONT, size=13, color='#222'),
                  annotations=annotations, shapes=shapes, **layout)

fig.write_html('out.html', config={'displayModeBar': False},
               post_script="document.body.style.margin='0';document.body.style.overflow='hidden';")
